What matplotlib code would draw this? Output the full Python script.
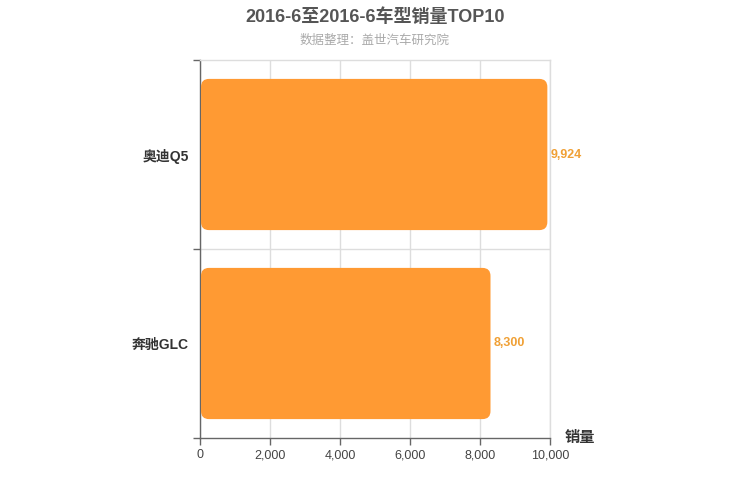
import matplotlib
matplotlib.use('Agg')
import matplotlib.pyplot as plt
from matplotlib.patches import FancyBboxPatch

plt.rcParams['font.family'] = ['Liberation Sans', 'Noto Sans CJK SC', 'DejaVu Sans']

# chart data
models = ['奥迪Q5', '奔驰GLC']
sales = [9924, 8300]
x_ticks = [0, 2000, 4000, 6000, 8000, 10000]

bar_color = '#ff9a33'
label_color = '#f0a035'

fig = plt.figure(figsize=(7.5, 5), dpi=100)
ax = fig.add_axes([200 / 750, 1 - 438 / 500, 350 / 750, 378 / 500])

ypos = list(range(len(models)))
ax.set_xlim(0, 10000)
ax.set_ylim(len(models) - 0.5, -0.5)

# rounded bars: draw plain bars, then swap each for a rounded box of the same size
bars = ax.barh(ypos, sales, height=0.8, color=bar_color)
fig.canvas.draw()
px_x = abs(ax.transData.transform((1, 0))[0] - ax.transData.transform((0, 0))[0])
px_y = abs(ax.transData.transform((0, 1))[1] - ax.transData.transform((0, 0))[1])
aspect = px_x / px_y
radius = 8 / px_x
for b in bars:
    b.set_visible(False)
    x0, y0 = b.get_x(), b.get_y()
    w, h = b.get_width(), b.get_height()
    box = FancyBboxPatch((x0 + 1 / px_x, y0), w - 1 / px_x, h,
                         boxstyle=f'round,pad=0,rounding_size={radius}',
                         mutation_aspect=aspect, facecolor=bar_color,
                         edgecolor='none', zorder=3)
    ax.add_patch(box)

for y, v in zip(ypos, sales):
    ax.text(v + 90, y, f'{v:,}', va='center', ha='left', fontsize=9,
            fontweight='bold', color=label_color)

# grid and axes styling
ax.set_xticks(x_ticks)
ax.set_xticklabels([f'{t:,}' for t in x_ticks], fontsize=9, color='#444444')
ax.xaxis.grid(True, color='#dddddd', linewidth=1, zorder=0)
ax.set_axisbelow(True)
ax.set_yticks(ypos)
ax.set_yticklabels(models, fontsize=10, color='#333333', fontweight='bold')
ax.tick_params(axis='y', which='major', length=0, pad=8)
ax.set_yticks([i - 0.5 for i in range(len(models) + 1)], minor=True)
ax.tick_params(axis='y', which='minor', length=5, color='#666666', width=1)
ax.tick_params(axis='x', length=5, color='#666666', width=1, pad=3)
for b in [i + 0.5 for i in range(len(models) - 1)]:
    ax.axhline(b, color='#dddddd', linewidth=1, zorder=0)

ax.spines['left'].set_color('#666666')
ax.spines['bottom'].set_color('#666666')
ax.spines['top'].set_color('#dddddd')
ax.spines['right'].set_color('#dddddd')
for s in ax.spines.values():
    s.set_linewidth(1)

fig.text(0.5, 1 - 17 / 500, '2016-6至2016-6车型销量TOP10', ha='center', va='center',
         fontsize=13, fontweight='bold', color='#555555')
fig.text(0.5, 1 - 41 / 500, '数据整理：盖世汽车研究院', ha='center', va='center',
         fontsize=9, color='#aaaaaa')
fig.text(580 / 750, 1 - 438 / 500, '销量', ha='center', va='center',
         fontsize=11, color='#333333', fontweight='bold')

fig.savefig('out.png', dpi=100)
